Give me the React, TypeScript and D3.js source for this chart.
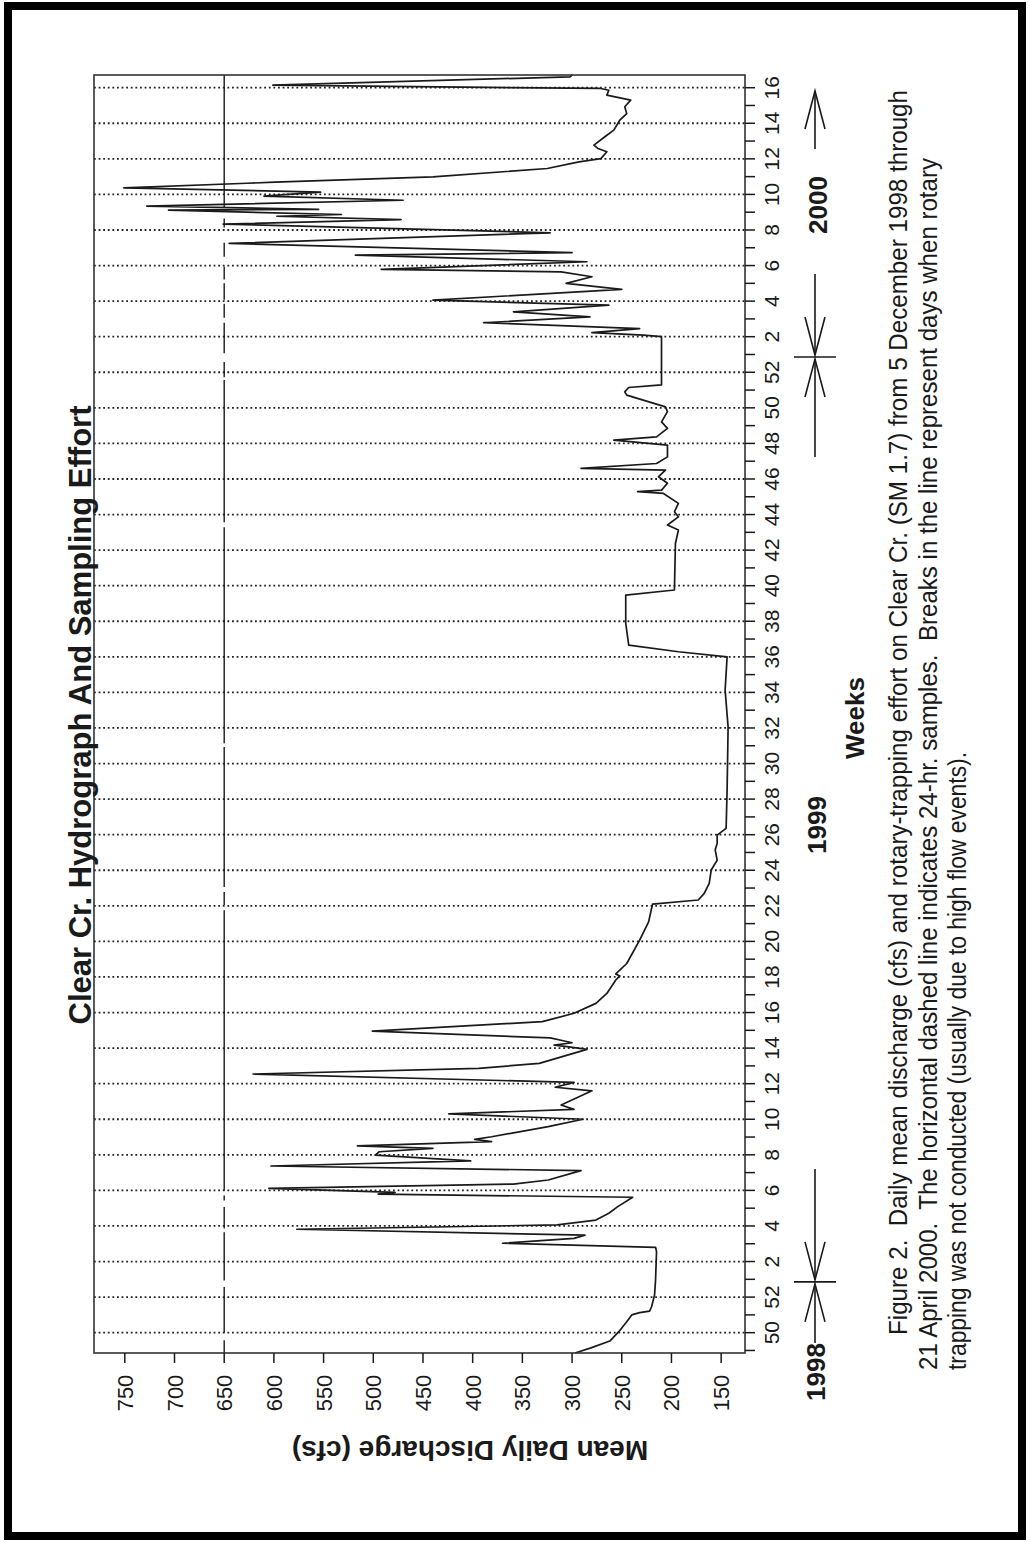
import React from "react";
import * as d3 from "d3";

// record runs from 5 Dec 1998 to 21 Apr 2000
const startDate = new Date(1998, 11, 5);
const endDate = new Date(2000, 3, 21);

const dayOffsets = [
  0, 2, 4.7, 8.4, 12.3, 15, 15.9, 16.5, 18.2, 22.8, 28.7, 39.9, 41.6, 43.2, 45.1, 46.4, 48.7, 50.4, 52.3, 55,
  57.6, 61.3, 62.5, 63.2, 64.8, 66.5, 68.1, 71.8, 73.6, 75.6, 77.9, 79.2, 80.5, 81.5, 83.2, 84.1, 85.1, 89.1, 92, 94.1,
  95.9, 97.6, 103.2, 104.6, 106.5, 109.8, 112, 114, 119.5, 120.6, 121.2, 122.1, 123, 124, 126.7, 130.4, 133.7, 137.6, 141.5, 146.8,
  148.4, 149.2, 153.3, 162.5, 169.7, 176.7, 178.3, 180.9, 184.8, 190.1, 194, 198, 200.6, 203.8, 206.5, 221.6, 246.5, 260.9, 274, 276,
  278.6, 287.2, 298.3, 300.3, 318.6, 323.9, 325.9, 329.1, 331.1, 334.4, 338.3, 339, 339.6, 342.3, 344.9, 347.5, 348.2, 350.1, 352.7, 357.3,
  359.3, 360.6, 363.9, 366.5, 370.5, 372.4, 377, 378.3, 380, 381, 400, 400.6, 401.6, 403.2, 405.5, 407.8, 409.8, 412.4, 414.4, 418.6,
  421, 423.6, 425.5, 426.5, 429.5, 432.1, 433.1, 436.7, 440.9, 444.3, 446.1, 447.4, 448.1, 449.8, 450.1, 451.4, 453.7, 455.3, 456.9, 458.6,
  460.4, 460.8, 462.9, 466.2, 468.8, 470.1, 472.8, 474.1, 475.4, 478.7, 481.3, 485.2, 487.8, 490.5, 493.1, 495.1, 497, 497.7, 499, 502.3,
  503,
];
const discharge = [
  297, 281, 262, 253, 245, 240, 232, 222, 220, 217, 216, 215, 216, 370, 298, 287, 577, 315, 276, 263,
  254, 239, 495, 478, 605, 359, 324, 291, 603, 402, 498, 494, 440, 516, 381, 398, 381, 324, 289, 424,
  298, 311, 280, 317, 298, 621, 394, 333, 285, 305, 318, 300, 310, 322, 501, 330, 298, 276, 265, 256,
  252, 256, 245, 232, 223, 219, 173, 167, 162, 160, 154, 156, 154, 154, 145, 144, 143, 146, 144, 193,
  243, 246, 246, 197, 196, 193, 204, 193, 197, 193, 208, 234, 210, 204, 213, 206, 291, 215, 204, 204,
  258, 215, 204, 210, 204, 206, 245, 247, 243, 210, 210, 228, 280, 232, 389, 282, 359, 263, 440, 250,
  306, 280, 311, 492, 285, 518, 300, 645, 322, 651, 472, 597, 532, 706, 555, 728, 470, 610, 553, 751,
  627, 599, 440, 325, 293, 271, 265, 274, 278, 267, 258, 252, 245, 247, 241, 265, 263, 271, 601, 302,
  300,
];

// 24-hr sampling line and the days when the rotary trap was not fished
const samplingLevel = 650;
const gapStarts = [5, 26, 47.5, 57.5, 62, 174.3, 181.4, 238.5, 325, 383, 390, 405.5, 413, 421, 427.5, 437, 446.5];
const gapEnds = [8, 28.5, 49, 60, 64, 176.3, 183.4, 240, 327, 384, 393.5, 407.5, 414.5, 422.5, 431.5, 443, 451];

const weekLabels = [
  "50", "52",
  "2", "4", "6", "8", "10", "12", "14", "16", "18", "20", "22", "24", "26",
  "28", "30", "32", "34", "36", "38", "40", "42", "44", "46", "48", "50", "52",
  "2", "4", "6", "8", "10", "12", "14", "16",
];
const firstLabeledWeek = new Date(1998, 11, 13);
const dischargeTicks = [150, 200, 250, 300, 350, 400, 450, 500, 550, 600, 650, 700, 750];
const yearBreaks = [new Date(1999, 0, 2), new Date(2000, 0, 1)];

const title = "Clear Cr. Hydrograph And Sampling Effort";
const captionLines = [
  "Figure 2.  Daily mean discharge (cfs) and rotary-trapping effort on Clear Cr. (SM 1.7) from 5 December 1998 through",
  "21 April 2000.  The horizontal dashed line indicates 24-hr. samples.  Breaks in the line represent days when rotary",
  "trapping was not conducted (usually due to high flow events).",
];

const W = 1030;
const H = 1542;
const plot = { left: 94, right: 745, top: 75, bottom: 1353 };
const font = "'Liberation Sans', Arial, sans-serif";
const narrow = "'Liberation Sans Narrow', 'Liberation Sans', Arial, sans-serif";
const ink = "#1a1a1a";

const dayToDate = (d: number) => new Date(startDate.getTime() + d * 86400000);

// page is printed sideways: time runs up the page, discharge runs right-to-left
const yT = d3.scaleTime().domain([startDate, endDate]).range([plot.bottom, plot.top]);
const xV = d3.scaleLinear().domain([126, 781]).range([plot.right, plot.left]);

const Rot = ({ x, y, angle = -90, children, ...rest }: any) => (
  <text transform={`translate(${x},${y}) rotate(${angle})`} {...rest}>
    {children}
  </text>
);

const Arrow = ({ x, from, to }: { x: number; from: number; to: number }) => {
  const dir = to < from ? 1 : -1; // head opens back toward the shaft
  return (
    <g stroke={ink} strokeWidth={1.6} fill="none">
      <line x1={x} y1={from} x2={x} y2={to} />
      <polyline points={`${x - 10},${to + dir * 38} ${x},${to} ${x + 10},${to + dir * 38}`} />
    </g>
  );
};

export default function App() {
  const pts: [number, number][] = dayOffsets.map((d, i) => [d, discharge[i]]);
  const flowLine = d3
    .line<[number, number]>()
    .x((d) => xV(d[1]))
    .y((d) => yT(dayToDate(d[0])))(pts);

  // sampling segments between the breaks
  const segs: [number, number][] = [];
  let prev = 0;
  gapStarts.forEach((s, i) => {
    segs.push([prev, s]);
    prev = gapEnds[i];
  });
  segs.push([prev, d3.timeDay.count(startDate, endDate)]);

  const labeledWeeks = weekLabels.map((_, i) => d3.timeDay.offset(firstLabeledWeek, 14 * i));
  const allWeeks = d3.timeSunday.range(startDate, endDate);

  const ax = 815; // column of the year arrows
  const b1 = yT(yearBreaks[0]);
  const b2 = yT(yearBreaks[1]);

  return (
    <svg width={W} height={H} style={{ position: "absolute", left: 0, top: 0, background: "#fff" }}>
      <rect x={8} y={6} width={1014} height={1530} fill="none" stroke="#000" strokeWidth={8} />

      {/* dotted week grid */}
      {labeledWeeks.map((d, i) => (
        <line key={"g" + i} x1={plot.left} x2={plot.right} y1={yT(d)} y2={yT(d)}
          stroke="#222" strokeWidth={1.8} strokeDasharray="1.8 2.8" />
      ))}

      {/* 24-hr sampling line */}
      {segs.map(([a, b], i) => (
        <line key={"s" + i} x1={xV(samplingLevel)} x2={xV(samplingLevel)}
          y1={yT(dayToDate(a))} y2={yT(dayToDate(b))} stroke={ink} strokeWidth={1.4} />
      ))}

      <path d={flowLine ?? ""} fill="none" stroke={ink} strokeWidth={1.7} strokeLinejoin="round" />

      <rect x={plot.left} y={plot.top} width={plot.right - plot.left} height={plot.bottom - plot.top}
        fill="none" stroke="#333" strokeWidth={1.6} />

      {/* week axis (right side of the page) */}
      {allWeeks.map((d, i) => (
        <line key={"t" + i} x1={plot.right} x2={plot.right + 10} y1={yT(d)} y2={yT(d)} stroke={ink} strokeWidth={1.5} />
      ))}
      {labeledWeeks.map((d, i) => (
        <Rot key={"wl" + i} x={779} y={yT(d)} textAnchor="middle" fontFamily={font} fontSize={21} fill={ink}>
          {weekLabels[i]}
        </Rot>
      ))}

      {/* discharge axis (bottom of the page) */}
      {dischargeTicks.map((v) => (
        <g key={"v" + v}>
          <line x1={xV(v)} x2={xV(v)} y1={plot.bottom} y2={plot.bottom + 10} stroke={ink} strokeWidth={1.5} />
          <Rot x={xV(v) + 8} y={1393} textAnchor="middle" fontFamily={font} fontSize={22} fill={ink}>
            {v}
          </Rot>
        </g>
      ))}
      <Rot x={470} y={1441} angle={180} textAnchor="middle" fontFamily={font} fontSize={28} fontWeight="bold" fill={ink}>
        Mean Daily Discharge (cfs)
      </Rot>

      <Rot x={91} y={715} textAnchor="middle" fontFamily={font} fontSize={31} fontWeight="bold" fill={ink}>
        {title}
      </Rot>
      <Rot x={864} y={718} textAnchor="middle" fontFamily={font} fontSize={26} fontWeight="bold" fill={ink}>
        Weeks
      </Rot>

      {/* year markers */}
      <Rot x={825} y={1372} textAnchor="middle" fontFamily={font} fontSize={26} fontWeight="bold" fill={ink}>1998</Rot>
      <Rot x={826} y={825} textAnchor="middle" fontFamily={font} fontSize={26} fontWeight="bold" fill={ink}>1999</Rot>
      <Rot x={827} y={205} textAnchor="middle" fontFamily={font} fontSize={26} fontWeight="bold" fill={ink}>2000</Rot>
      <Arrow x={ax} from={1343} to={b1 + 2} />
      <line x1={ax - 21} x2={ax + 21} y1={b1} y2={b1} stroke={ink} strokeWidth={1.6} />
      <Arrow x={ax} from={1169} to={b1 - 2} />
      <Arrow x={ax} from={457} to={b2 + 2} />
      <line x1={ax - 21} x2={ax + 21} y1={b2} y2={b2} stroke={ink} strokeWidth={1.6} />
      <Arrow x={ax} from={274} to={b2 - 2} />
      <Arrow x={ax} from={149} to={91} />

      {/* caption */}
      <Rot x={907} y={1335} fontFamily={narrow} fontSize={25} fill={ink} textLength={1245}
        lengthAdjust="spacingAndGlyphs" style={{ whiteSpace: "pre" }}>{captionLines[0]}</Rot>
      <Rot x={937} y={1370} fontFamily={narrow} fontSize={25} fill={ink} textLength={1212}
        lengthAdjust="spacingAndGlyphs" style={{ whiteSpace: "pre" }}>{captionLines[1]}</Rot>
      <Rot x={966} y={1370} fontFamily={narrow} fontSize={25} fill={ink} textLength={618}
        lengthAdjust="spacingAndGlyphs" style={{ whiteSpace: "pre" }}>{captionLines[2]}</Rot>
    </svg>
  );
}
